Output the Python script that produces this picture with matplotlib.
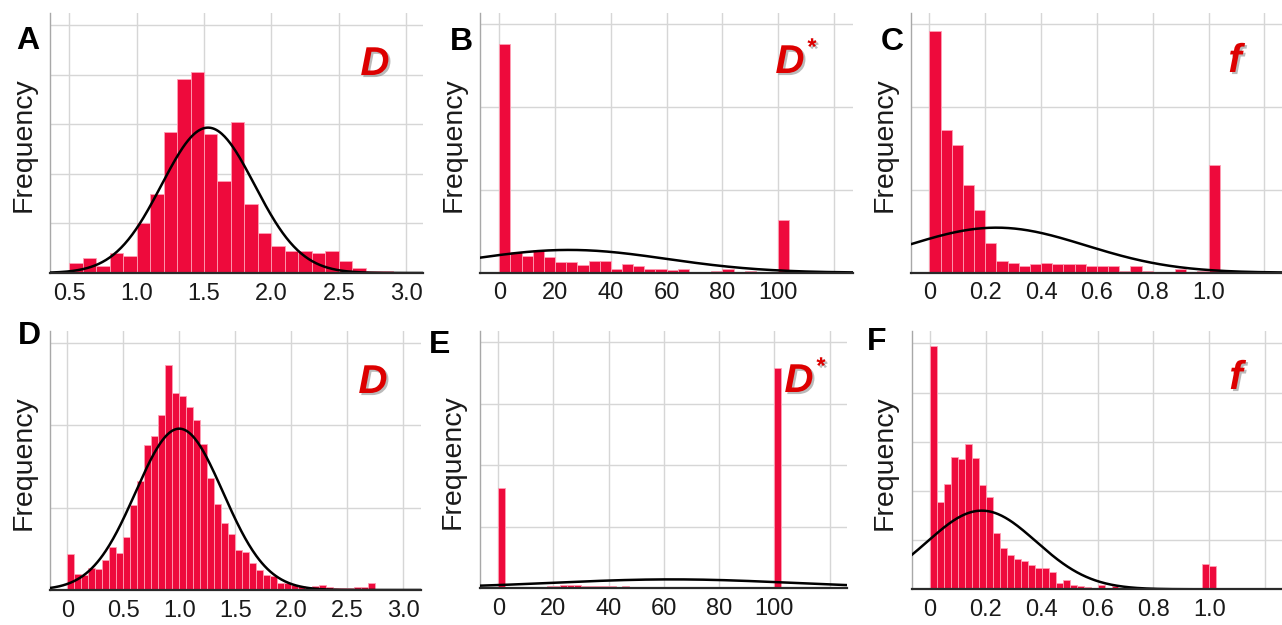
import numpy as np
import matplotlib
matplotlib.use("Agg")
import matplotlib.pyplot as plt
import matplotlib.patheffects as pe

plt.rcParams['font.family'] = ['Liberation Sans', 'DejaVu Sans']

W, H = 1282, 625

# histogram counts (bin edges start / width per panel)
a_counts = [4, 6, 3, 8, 7, 20, 32, 57, 78, 81, 56, 37, 61, 28, 16, 11, 9, 9, 8, 9, 5, 2, 1, 1]
b_counts = [276, 25, 20, 27, 19, 13, 13, 9, 14, 14, 5, 10, 8, 5, 4, 3, 4, 1, 1, 2, 4, 1, 2, 1, 1, 64]
c_counts = [146, 86, 77, 53, 38, 18, 7, 6, 4, 5, 6, 5, 5, 5, 4, 4, 4, 1, 4, 1, 0, 0, 2, 0, 1, 65]
d_counts = [44, 19, 18, 27, 26, 37, 52, 45,
            64, 103, 132, 176, 187, 212, 273, 239,
            236, 222, 207, 177, 136, 104, 81, 68,
            49, 46, 33, 24, 18, 17, 8, 9,
            6, 5, 4, 5, 6, 4, 3, 2, 2, 4, 4, 9]
e_counts = [810,
            10, 8, 10, 12, 10, 12, 15, 20, 25, 28,
            22, 20, 18, 15, 18, 15, 12, 14, 12, 12,
            10, 12, 10, 8, 6, 8, 6, 5, 6, 5,
            4, 5, 4, 3, 3, 3, 2, 2, 2,
            1785]
f_counts = [494, 178, 215, 269, 265, 295, 267, 212, 188, 115, 83, 70, 61, 58, 49,
            44, 44, 35, 12, 18, 9, 7, 5, 3, 8, 2, 7, 3, 1,
            0, 0, 0, 0, 0, 0, 0, 0, 0, 0,
            52, 47]

bin_start = {'A': 0.5, 'B': 0, 'C': 0, 'D': 0, 'E': 0, 'F': 0}
bin_width = {'A': 0.1, 'B': 4, 'C': 0.04, 'D': 0.0625, 'E': 2.5, 'F': 0.025}

# fitted normal curves: mean, sd, peak height
fit_mean = {'A': 1.53, 'B': 25, 'C': 0.24, 'D': 1.0, 'E': 63, 'F': 0.185}
fit_sd = {'A': 0.345, 'B': 35, 'C': 0.32, 'D': 0.39, 'E': 43, 'F': 0.195}
fit_peak = {'A': 58.6, 'B': 27.5, 'C': 27.2, 'D': 196, 'E': 70, 'F': 160}

grid_step = {'A': 20, 'B': 100, 'C': 50, 'D': 100, 'E': 500, 'F': 100}
y_top = {'A': 104.8, 'B': 313.6, 'C': 156.8, 'D': 315, 'E': 2092, 'F': 526}

x_ticks = {
    'A': ([0.5, 1.0, 1.5, 2.0, 2.5, 3.0], ['0.5', '1.0', '1.5', '2.0', '2.5', '3.0']),
    'B': ([0, 20, 40, 60, 80, 100, 120], ['0', '20', '40', '60', '80', '100', '']),
    'C': ([0, 0.2, 0.4, 0.6, 0.8, 1.0, 1.2], ['0', '0.2', '0.4', '0.6', '0.8', '1.0', '']),
    'D': ([0, 0.5, 1.0, 1.5, 2.0, 2.5, 3.0], ['0', '0.5', '1.0', '1.5', '2.0', '2.5', '3.0']),
    'E': ([0, 20, 40, 60, 80, 100, 120], ['0', '20', '40', '60', '80', '100', '']),
    'F': ([0, 0.2, 0.4, 0.6, 0.8, 1.0, 1.2], ['0', '0.2', '0.4', '0.6', '0.8', '1.0', '']),
}
x_lim = {'A': (0.357, 3.123), 'B': (-6.9, 126.7), 'C': (-0.067, 1.263),
         'D': (-0.154, 3.155), 'E': (-6.6, 126.2), 'F': (-0.066, 1.261)}

counts = {'A': a_counts, 'B': b_counts, 'C': c_counts,
          'D': d_counts, 'E': e_counts, 'F': f_counts}
param_name = {'A': 'D', 'B': 'D*', 'C': 'f', 'D': 'D', 'E': 'D*', 'F': 'f'}

# axes boxes in pixels: left, top, right, bottom
boxes = {'A': (50, 13, 422.7, 273), 'B': (480, 13, 852.7, 272.7), 'C': (910.7, 13, 1282, 272.7),
         'D': (50, 330.7, 420.7, 590), 'E': (480, 330.7, 846.7, 588), 'F': (911.7, 330.7, 1282, 589.3)}
letter_pos = {'A': (28, 41), 'B': (461, 42), 'C': (892, 42),
              'D': (29, 336), 'E': (440, 345), 'F': (877, 342)}
ylabel_pos = {'A': (24, 145), 'B': (454, 145), 'C': (885, 145),
              'D': (24, 463), 'E': (453, 462), 'F': (885, 463)}
name_pos = {'A': (375, 64), 'B': (790, 62), 'C': (1235, 61),
            'D': (373, 382), 'E': (799, 381), 'F': (1236, 378)}

RED = '#EE0A3C'
LABEL_RED = '#DD0000'


def fx(x):
    return x / W


def fy(y):
    return 1 - y / H


fig = plt.figure(figsize=(W / 100, H / 100), dpi=100)
shadow = [pe.SimplePatchShadow(offset=(1.5, -1.5), shadow_rgbFace='#777777', alpha=0.5), pe.Normal()]

for key in ['A', 'B', 'C', 'D', 'E', 'F']:
    l, t, r, b = boxes[key]
    ax = fig.add_axes([fx(l), fy(b), (r - l) / W, (b - t) / H])

    vals = counts[key]
    w = bin_width[key]
    lefts = bin_start[key] + w * np.arange(len(vals))
    ax.bar(lefts, vals, width=w, align='edge', color=RED,
           edgecolor='#FF9FB4', linewidth=0.6, zorder=2)

    x0, x1 = x_lim[key]
    xs = np.linspace(x0, x1, 400)
    ys = fit_peak[key] * np.exp(-0.5 * ((xs - fit_mean[key]) / fit_sd[key]) ** 2)
    ax.plot(xs, ys, color='black', lw=1.8, zorder=3)

    ax.set_xlim(x0, x1)
    ax.set_ylim(0, y_top[key])
    ticks, labels = x_ticks[key]
    ax.set_xticks(ticks)
    ax.set_xticklabels(labels, fontsize=17, color='#1a1a1a')
    ax.set_yticks(np.arange(grid_step[key], y_top[key], grid_step[key]))
    ax.set_yticklabels([])
    ax.tick_params(length=0, pad=7)
    ax.grid(True, color='#D6D6D6', lw=1, zorder=0)
    ax.set_axisbelow(True)

    for s in ['top', 'right']:
        ax.spines[s].set_visible(False)
    ax.spines['left'].set_color('#A8A8A8')
    ax.spines['left'].set_linewidth(1.0)
    ax.spines['bottom'].set_color('#2a2a2a')
    ax.spines['bottom'].set_linewidth(1.6)
    ax.spines['bottom'].set_zorder(4)

    # panel letter, y label and parameter name
    lx, ly = letter_pos[key]
    fig.text(fx(lx), fy(ly), key, fontsize=23, fontweight='bold', ha='center', va='center')
    yx, yy = ylabel_pos[key]
    fig.text(fx(yx), fy(yy), 'Frequency', fontsize=20.5, rotation=90, ha='center', va='center',
             color='#1a1a1a')
    nx, ny = name_pos[key]
    name = param_name[key]
    fig.text(fx(nx), fy(ny), name[0], fontsize=29, fontweight='bold', fontstyle='italic',
             color=LABEL_RED, ha='center', va='center', path_effects=shadow)
    if name.endswith('*'):
        fig.text(fx(nx + 22), fy(ny - 14), '*', fontsize=17, fontweight='bold',
                 color=LABEL_RED, ha='center', va='center', path_effects=shadow)

fig.savefig('out.png', dpi=100)
